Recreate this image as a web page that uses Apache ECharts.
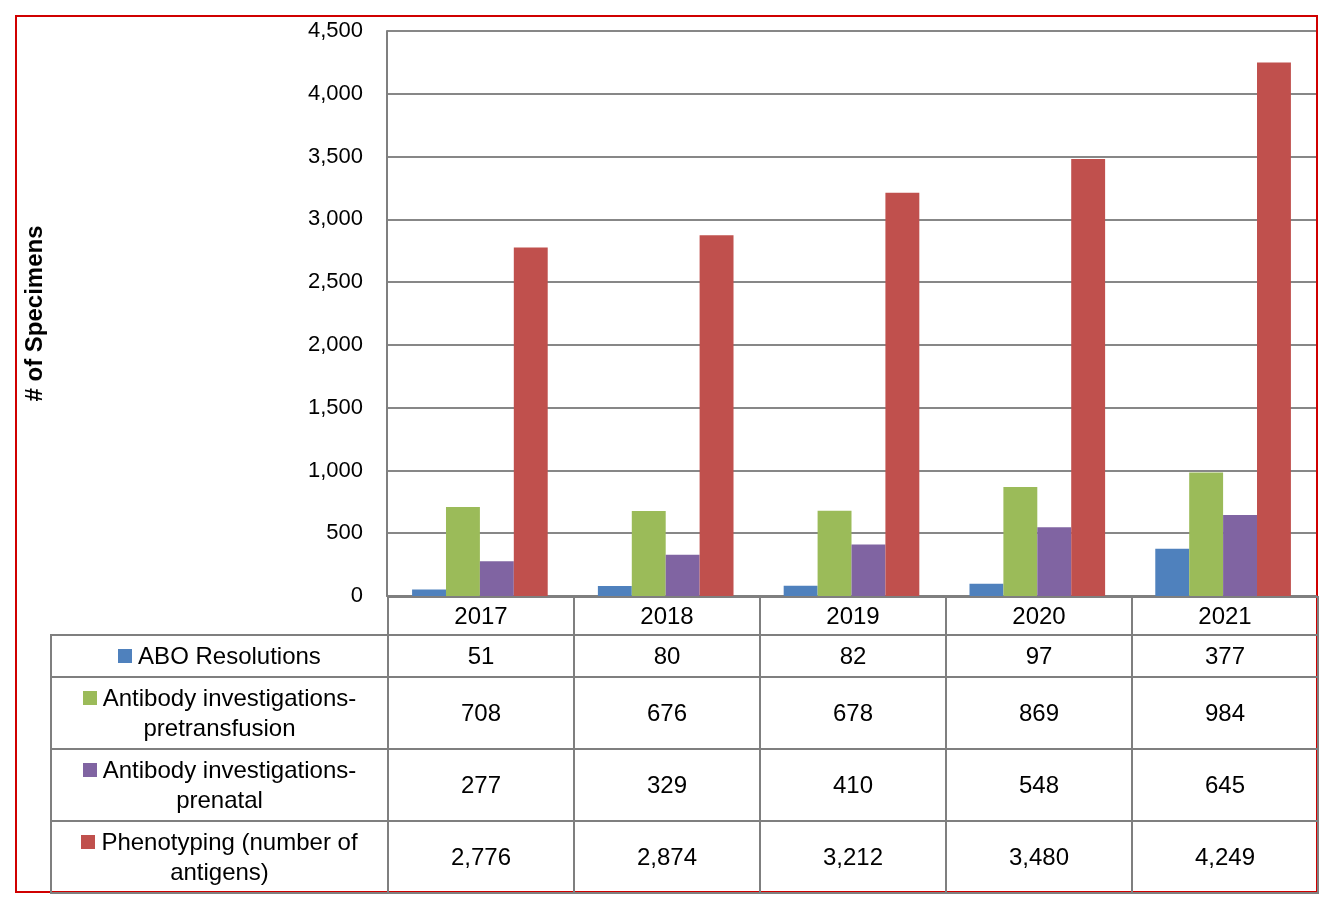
<!DOCTYPE html>
<html><head><meta charset="utf-8">
<script src="https://cdn.jsdelivr.net/npm/echarts@6/dist/echarts.min.js"></script>
<style>
body{margin:0;background:#fff;font-family:"Liberation Sans",Arial,sans-serif;}
#frame{position:absolute;left:15px;top:15px;width:1299px;height:874px;border:2px solid #d00000;}
#chart{position:absolute;left:0;top:0;width:1329px;height:909px;}
#tbl{position:absolute;left:50px;top:596px;border-collapse:collapse;font-size:24px;color:#000;}
#tbl td{border:2px solid #7f7f7f;text-align:center;padding:0;line-height:30px;}
#tbl td.lab{width:335px;}
#tbl td.v{width:184px;}
.sw{display:inline-block;width:14px;height:14px;margin-right:6px;vertical-align:1px;}
</style></head>
<body>
<div id="frame"></div>
<div id="chart"></div>
<table id="tbl"></table>
<script>
var years = ['2017','2018','2019','2020','2021'];
var seriesNames = ['ABO Resolutions','Antibody investigations-\npretransfusion','Antibody investigations-\nprenatal','Phenotyping (number of\nantigens)'];
var abo = [51, 80, 82, 97, 377];
var pretransfusion = [708, 676, 678, 869, 984];
var prenatal = [277, 329, 410, 548, 645];
var phenotyping = [2776, 2874, 3212, 3480, 4249];
var colors = ['#4F81BD','#9BBB59','#8064A2','#C0504D'];
var allData = [abo, pretransfusion, prenatal, phenotyping];
var rowHeights = [42, 72, 72, 72];

var chart = echarts.init(document.getElementById('chart'));
chart.setOption({
  animation:false,
  grid:{left:387,top:31,width:929,height:565},
  xAxis:{type:'category',data:years,axisLabel:{show:false},axisTick:{show:false},
    axisLine:{lineStyle:{color:'#7f7f7f',width:2}}},
  yAxis:{type:'value',min:0,max:4500,interval:500,
    name:'# of Specimens',nameLocation:'middle',nameGap:340,nameRotate:90,
    nameTextStyle:{fontSize:24,fontWeight:'bold',color:'#000',fontFamily:'Liberation Sans'},
    axisLabel:{fontSize:22,color:'#000',fontFamily:'Liberation Sans',margin:24},
    axisLine:{show:true,lineStyle:{color:'#7f7f7f',width:2}},
    axisTick:{show:false},
    splitLine:{lineStyle:{color:'#878787',width:2}}},
  series:allData.map(function(d,i){
    return {type:'bar',name:seriesNames[i],data:d,itemStyle:{color:colors[i]},
      barGap:'0%',barCategoryGap:'27%'};
  })
});

// data table
var tbl = document.getElementById('tbl');
var h = '<tr style="height:38px"><td class="lab" style="border-top:none;border-left:none"></td>';
years.forEach(function(y){ h += '<td class="v">'+y+'</td>'; });
h += '</tr>';
seriesNames.forEach(function(n,i){
  h += '<tr style="height:'+rowHeights[i]+'px"><td class="lab"><span class="sw" style="background:'+colors[i]+'"></span>'+
    n.replace('\n','<br>')+'</td>';
  allData[i].forEach(function(v){ h += '<td class="v">'+v.toLocaleString('en-US')+'</td>'; });
  h += '</tr>';
});
tbl.innerHTML = h;
</script>
</body></html>
